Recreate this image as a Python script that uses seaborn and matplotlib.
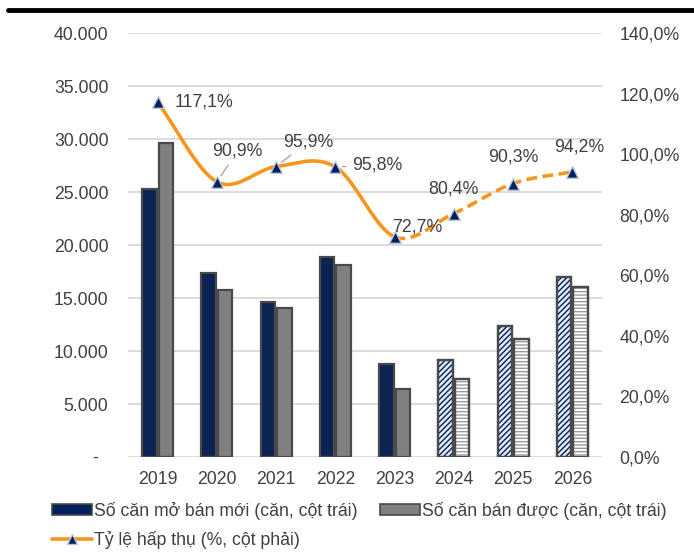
import numpy as np
import pandas as pd
import seaborn as sns
import matplotlib
matplotlib.use("Agg")
import matplotlib.pyplot as plt
from matplotlib.patches import Rectangle, Patch
from matplotlib.lines import Line2D

years = ["2019", "2020", "2021", "2022", "2023", "2024", "2025", "2026"]
new_units = [25300, 17400, 14600, 18850, 8750, 9150, 12350, 16950]
sold_units = [29600, 15750, 14050, 18150, 6400, 7350, 11150, 16000]
absorption = [117.1, 90.9, 95.9, 95.8, 72.7, 80.4, 90.3, 94.2]
absorption_labels = ["117,1%", "90,9%", "95,9%", "95,8%", "72,7%", "80,4%", "90,3%", "94,2%"]
forecast_years = ["2024", "2025", "2026"]
s_new = "Số căn mở bán mới (căn, cột trái)"
s_sold = "Số căn bán được (căn, cột trái)"
s_rate = "Tỷ lệ hấp thụ (%, cột phải)"
left_ticks = [0, 5000, 10000, 15000, 20000, 25000, 30000, 35000, 40000]
left_tick_labels = ["-  ", "5.000", "10.000", "15.000", "20.000", "25.000", "30.000", "35.000", "40.000"]
right_ticks = [0, 20, 40, 60, 80, 100, 120, 140]
right_tick_labels = ["0,0%", "20,0%", "40,0%", "60,0%", "80,0%", "100,0%", "120,0%", "140,0%"]

NAVY = "#002060"
GRAY = "#7f8083"
ORANGE = "#F7961E"
EDGE = "#4a4a4a"
TXT = "#404040"
FS = 12.7

sns.set_theme(style="white")
plt.rcParams["font.family"] = ["Liberation Sans", "DejaVu Sans"]

df = pd.DataFrame({
    "year": years * 2,
    "value": new_units + sold_units,
    "series": [s_new] * len(years) + [s_sold] * len(years),
})

fig = plt.figure(figsize=(6.94, 5.53), dpi=100)
ax = fig.add_axes([0.1844, 0.1736, 0.683, 0.7667])

sns.barplot(data=df, x="year", y="value", hue="series", order=years,
            hue_order=[s_new, s_sold], palette=[NAVY, GRAY], width=0.56, gap=0.12,
            edgecolor=EDGE, linewidth=1.6, ax=ax, legend=False, zorder=2)

# forecast styling
for ci, cont in enumerate(ax.containers[:2]):
    for yr, p in zip(years, cont.patches):
        if yr in forecast_years:
            p.set_facecolor("#e4e9f2" if ci == 0 else "white")
            hcol = NAVY if ci == 0 else "#9a9a9a"
            hatch = "//////" if ci == 0 else "-----"
            r = Rectangle(p.get_xy(), p.get_width(), p.get_height(), facecolor="none",
                          edgecolor=hcol, linewidth=0, hatch=hatch, zorder=2.5)
            ax.add_patch(r)
            r2 = Rectangle(p.get_xy(), p.get_width(), p.get_height(), facecolor="none",
                           edgecolor=EDGE, linewidth=1.6, zorder=2.6)
            ax.add_patch(r2)

ax.set_ylim(0, 40000)
ax.set_xlim(-0.5, len(years) - 0.5)
ax.set_yticks(left_ticks)
ax.set_yticklabels(left_tick_labels)
ax.yaxis.grid(True, color="#d9d9d9", linewidth=1.3, zorder=0)
ax.set_axisbelow(True)
for s in ax.spines.values():
    s.set_visible(False)
ax.set_xlabel("")
ax.set_ylabel("")
ax.tick_params(axis="both", length=0, labelsize=FS, colors=TXT)
ax.tick_params(axis="y", pad=14)
ax.tick_params(axis="x", pad=10)

ax2 = ax.twinx()
ax2.set_ylim(0, 140)
ax2.set_yticks(right_ticks)
ax2.set_yticklabels(right_tick_labels)
ax2.tick_params(axis="y", length=0, labelsize=FS, colors=TXT, pad=12.5)
for s in ax2.spines.values():
    s.set_visible(False)
ax2.grid(False)

# smooth line (Catmull-Rom through the data points)
xs = np.arange(len(years), dtype=float)
ys = np.array(absorption, dtype=float)

def catmull(i0, i1):
    pts_x, pts_y = [], []
    n = len(xs)
    for i in range(i0, i1):
        p0 = max(i - 1, 0); p3 = min(i + 2, n - 1)
        P = [(xs[k], ys[k] / 10.0) for k in (p0, i, i + 1, p3)]
        t = np.linspace(0, 1, 40)
        for dim, out in ((0, pts_x), (1, pts_y)):
            a0, a1, a2, a3 = [p[dim] for p in P]
            m1 = (a2 - a0) / 2.0 if i > 0 else (a2 - a1)
            m2 = (a3 - a1) / 2.0 if i + 1 < n - 1 else (a2 - a1)
            h00 = 2*t**3 - 3*t**2 + 1; h10 = t**3 - 2*t**2 + t
            h01 = -2*t**3 + 3*t**2; h11 = t**3 - t**2
            out.extend(h00*a1 + h10*m1 + h01*a2 + h11*m2)
    return np.array(pts_x), np.array(pts_y) * 10.0

sx, sy = catmull(0, 4)
ax2.plot(sx, sy, color=ORANGE, linewidth=2.6, solid_capstyle="round", zorder=3)
dx, dy = catmull(4, 7)
ax2.plot(dx, dy, color=ORANGE, linewidth=2.6, linestyle=(0, (3.0, 1.5)), zorder=3)
sns.scatterplot(x=xs, y=ys, marker="^", s=70, color=NAVY, edgecolor="#b8c4d8",
                linewidth=1.0, ax=ax2, zorder=4, legend=False)

offsets = [(12, 0, "left", "center", False), (15, 22, "center", "center", True),
           (23, 18, "center", "center", True), (12, 1, "left", "center", True),
           (-1.5, 7, "left", "center", False), (0, 18, "center", "center", False),
           (0, 19, "center", "center", False), (5, 18, "center", "center", False)]
for i, (ox, oy, ha, va, leader) in enumerate(offsets):
    kw = dict(arrowprops=dict(arrowstyle="-", color="#a0a0a0", lw=0.9, shrinkA=2, shrinkB=5)) if leader else {}
    ax2.annotate(absorption_labels[i], (xs[i], ys[i]), xytext=(ox, oy), textcoords="offset points",
                 ha=ha, va=va, fontsize=12.8, color=TXT, zorder=5, **kw)

handles = [Patch(facecolor=NAVY, edgecolor=EDGE, linewidth=1.2),
           Line2D([0], [0], color=ORANGE, lw=2.6, marker="^", markersize=7,
                  markerfacecolor=NAVY, markeredgecolor="#b8c4d8"),
           Patch(facecolor=GRAY, edgecolor=EDGE, linewidth=1.2)]
labels = [s_new, s_rate, s_sold]
fig.legend(handles, labels, ncol=2, loc="upper left", bbox_to_anchor=(52/694, 1 - 502/553),
           frameon=False, fontsize=FS, handlelength=2.25, handleheight=0.55, handletextpad=0.12,
           columnspacing=1.3, labelspacing=0.6, labelcolor=TXT, borderaxespad=0, borderpad=0)

fig.add_artist(Line2D([8/694, 1.0], [1 - 10/553, 1 - 10/553], color="black", lw=3.5,
                      transform=fig.transFigure))

fig.savefig("out.png", dpi=100)
